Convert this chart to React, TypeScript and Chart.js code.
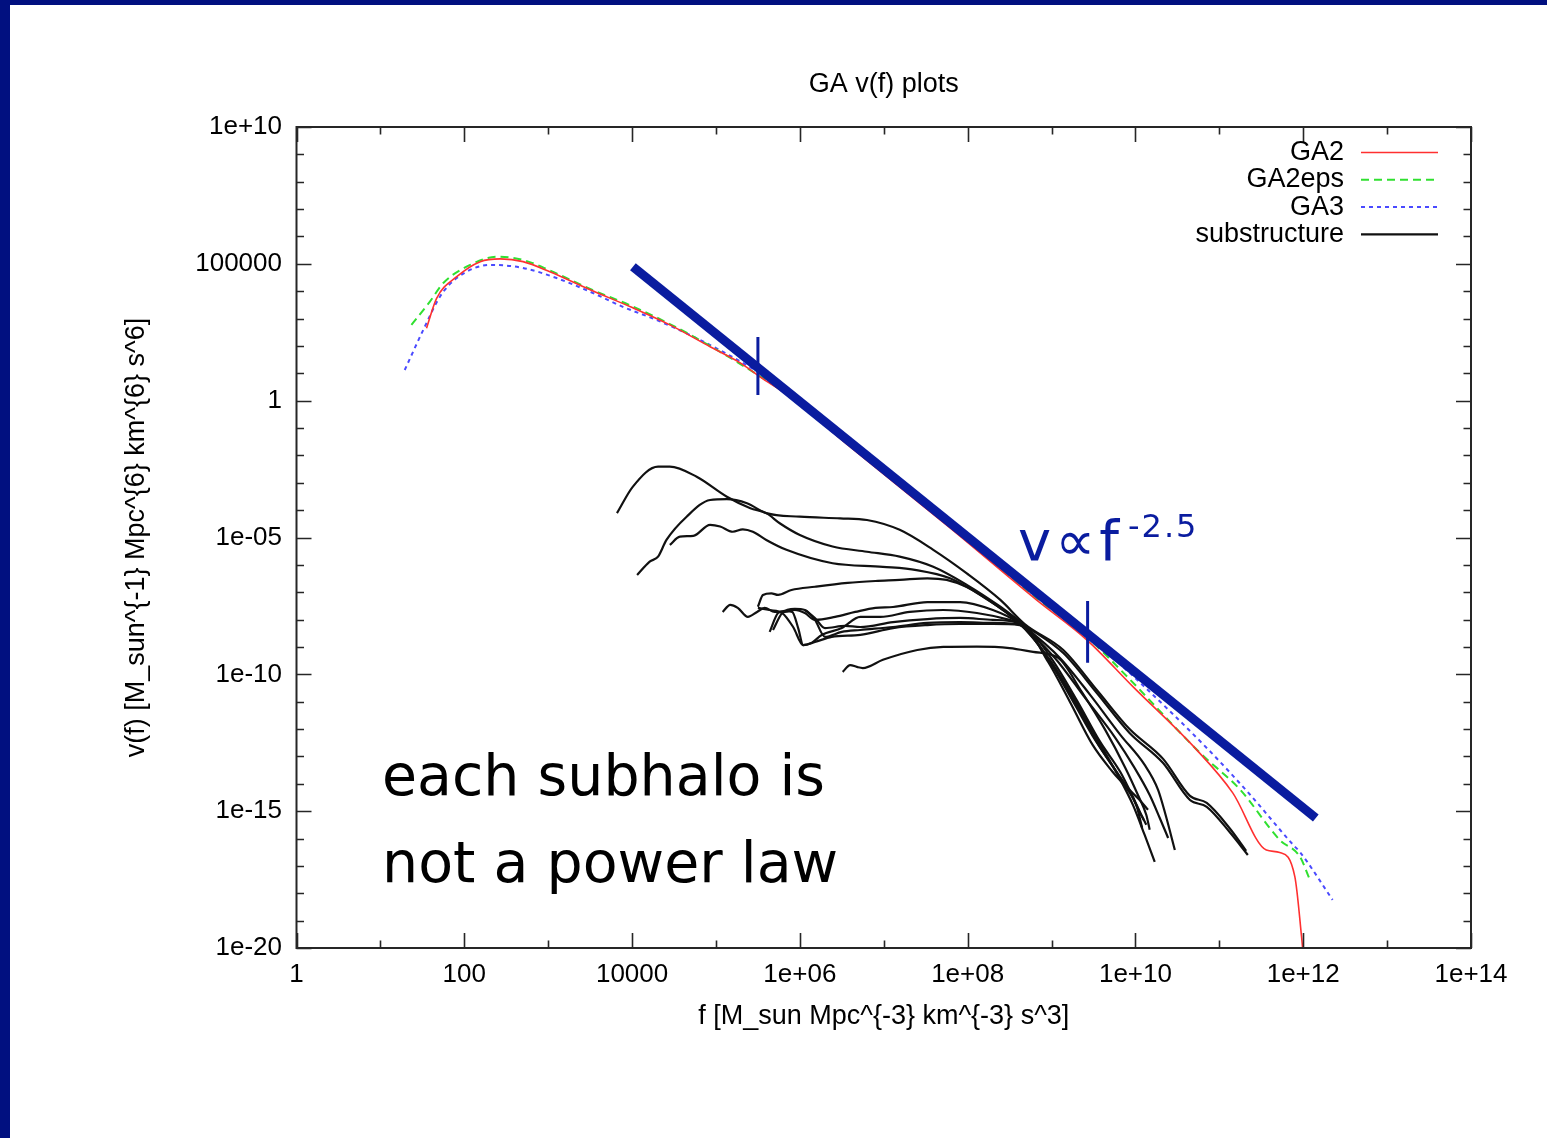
import React, { useEffect, useRef } from 'react';
import { Chart, registerables } from 'chart.js';

Chart.register(...registerables);

// ---------- axis ticks ----------
const X_TICK_VALUES = [1, 1e2, 1e4, 1e6, 1e8, 1e10, 1e12, 1e14];
const X_TICK_LABELS = ['1', '100', '10000', '1e+06', '1e+08', '1e+10', '1e+12', '1e+14'];
const Y_TICK_VALUES = [1e-20, 1e-15, 1e-10, 1e-5, 1, 1e5, 1e10];
const Y_TICK_LABELS = ['1e-20', '1e-15', '1e-10', '1e-05', '1', '100000', '1e+10'];

const TITLE = 'GA v(f) plots';
const X_TITLE = 'f [M_sun Mpc^{-3} km^{-3} s^3]';
const Y_TITLE = 'v(f) [M_sun^{-1} Mpc^{6} km^{6} s^6]';
const LEGEND_LABELS = ['GA2', 'GA2eps', 'GA3', 'substructure'];

// ---------- series (log10 f, log10 v) ----------
const GA2_LOGF = [1.55, 1.67, 1.91, 2.19, 2.43, 2.70, 3.02, 3.50, 3.98, 4.45, 4.93, 5.29, 5.52, 5.88, 6.60, 7.79, 8.82, 9.42, 9.97, 10.73, 11.16, 11.56, 11.72, 11.90, 11.98, 12.00];
const GA2_LOGV = [2.65, 3.74, 4.53, 5.08, 5.18, 5.08, 4.71, 4.05, 3.43, 2.77, 1.97, 1.38, 0.88, 0.15, -1.69, -4.65, -7.28, -8.74, -10.45, -12.76, -14.33, -16.42, -16.51, -17.39, -19.58, -20.25];

const GA2EPS_LOGF = [1.37, 1.59, 1.75, 2.07, 2.39, 2.70, 3.02, 3.50, 3.98, 4.45, 4.93, 5.52, 5.88, 6.60, 7.79, 8.82, 9.42, 9.90, 10.77, 11.25, 11.72, 11.96, 12.08];
const GA2EPS_LOGV = [2.77, 3.62, 4.30, 4.96, 5.26, 5.14, 4.76, 4.08, 3.48, 2.80, 2.00, 0.90, 0.17, -1.66, -4.61, -7.21, -8.63, -10.08, -12.87, -14.22, -16.05, -16.66, -17.51];

const GA3_LOGF = [1.29, 1.51, 1.71, 1.91, 2.31, 2.70, 3.10, 3.50, 3.89, 4.29, 4.69, 5.08, 5.49, 5.88, 6.60, 7.79, 8.82, 9.42, 9.97, 10.85, 11.37, 11.88, 11.96, 12.35];
const GA3_LOGV = [1.12, 2.58, 3.80, 4.48, 4.96, 4.85, 4.48, 3.98, 3.43, 2.95, 2.40, 1.79, 1.06, 0.14, -1.66, -4.61, -7.17, -8.56, -10.06, -12.69, -14.41, -16.23, -16.49, -18.24];

const SUB_1 = [[3.82, -4.11], [4.01, -3.14], [4.31, -2.41], [4.45, -2.41], [4.77, -2.78], [5.13, -3.51], [5.41, -3.93], [5.60, -4.11], [5.76, -4.48], [6.00, -4.91], [6.39, -5.33], [6.80, -5.52], [7.19, -5.70], [7.59, -6.07], [7.99, -6.73], [8.39, -7.53], [8.68, -8.20], [9.14, -9.22], [9.54, -10.68], [9.93, -12.14], [10.33, -13.24], [10.65, -14.59], [10.85, -14.84], [11.13, -15.79], [11.34, -16.60]];
const SUB_2 = [[4.06, -6.37], [4.21, -5.88], [4.31, -5.70], [4.41, -5.09], [4.65, -4.24], [4.93, -3.63], [5.13, -3.60], [5.37, -3.75], [5.60, -4.11], [6.00, -4.24], [6.48, -4.30], [6.80, -4.36], [7.19, -4.72], [7.59, -5.45], [7.99, -6.31], [8.39, -7.28], [8.68, -8.16], [9.14, -9.11], [9.54, -10.57], [9.93, -12.00], [10.33, -13.09], [10.65, -14.44], [10.85, -14.70], [11.13, -15.65], [11.32, -16.45]];
const SUB_3 = [[4.45, -5.27], [4.57, -4.97], [4.73, -4.94], [4.93, -4.54], [5.05, -4.60], [5.20, -4.79], [5.32, -4.70], [5.44, -4.79], [5.60, -5.09], [5.84, -5.45], [6.39, -5.94], [6.99, -6.07], [7.39, -6.19], [7.79, -6.49], [8.18, -7.16], [8.60, -8.09], [8.98, -9.47], [9.28, -10.94], [9.55, -12.40], [9.79, -13.68], [9.97, -14.77], [10.11, -15.87], [10.23, -16.85]];
const SUB_4 = [[5.50, -7.53], [5.56, -7.10], [5.66, -7.04], [5.74, -7.10], [5.90, -6.92], [6.18, -6.80], [6.57, -6.66], [6.90, -6.59], [7.19, -6.55], [7.52, -6.49], [7.75, -6.55], [7.99, -6.81], [8.30, -7.39], [8.62, -8.12], [9.10, -9.40], [9.46, -10.75], [9.82, -12.21], [10.11, -13.31], [10.27, -14.22], [10.36, -15.14], [10.47, -16.42]];
const SUB_5 = [[5.08, -7.72], [5.17, -7.46], [5.26, -7.57], [5.38, -7.90], [5.49, -7.72], [5.58, -7.57], [5.70, -7.72], [5.82, -7.72], [5.94, -7.65], [6.06, -7.76], [6.18, -8.01], [6.42, -7.90], [6.66, -7.72], [6.90, -7.57], [7.11, -7.54], [7.52, -7.36], [7.91, -7.36], [8.30, -7.65], [8.59, -8.09], [9.04, -9.40], [9.40, -10.86], [9.76, -12.32], [9.99, -13.42], [10.17, -14.41], [10.29, -15.25], [10.39, -15.98]];
const SUB_6 = [[5.64, -8.45], [5.74, -7.76], [5.82, -7.68], [5.91, -7.72], [5.98, -8.31], [6.04, -8.93], [6.18, -8.82], [6.38, -8.63], [6.72, -8.56], [7.11, -8.31], [7.52, -8.20], [7.91, -8.16], [8.30, -8.16], [8.62, -8.20], [8.98, -9.55], [9.26, -11.01], [9.52, -12.40], [9.76, -13.49], [9.93, -14.22], [10.05, -14.59], [10.15, -14.95]];
const SUB_7 = [[5.68, -8.38], [5.79, -7.76], [5.94, -7.61], [6.06, -7.65], [6.18, -8.01], [6.30, -8.63], [6.50, -8.45], [6.72, -8.38], [7.11, -8.27], [7.52, -8.12], [7.91, -8.09], [8.30, -8.12], [8.65, -8.20], [8.96, -9.55], [9.22, -11.01], [9.49, -12.58], [9.73, -13.57], [9.91, -14.22], [10.01, -14.77], [10.08, -15.61]];
const SUB_8 = [[5.50, -7.57], [5.64, -7.65], [5.79, -7.76], [5.92, -8.27], [6.04, -8.93], [6.14, -8.85], [6.26, -8.56], [6.50, -8.31], [6.72, -7.90], [6.96, -7.90], [7.31, -7.72], [7.71, -7.65], [8.11, -7.76], [8.50, -8.01], [8.68, -8.20], [9.01, -9.47], [9.30, -10.94], [9.58, -12.47], [9.82, -13.57], [9.97, -14.48], [10.07, -15.14], [10.13, -15.50]];
const SUB_9 = [[6.06, -7.65], [6.18, -7.94], [6.30, -8.31], [6.54, -8.23], [6.72, -8.27], [7.11, -8.09], [7.52, -7.98], [7.91, -7.94], [8.30, -8.01], [8.56, -8.09], [8.98, -9.51], [9.28, -11.01], [9.54, -12.47], [9.78, -13.60], [9.95, -14.41], [10.05, -15.03], [10.10, -15.32]];
const SUB_10 = [[6.51, -9.91], [6.60, -9.66], [6.68, -9.73], [6.75, -9.77], [6.99, -9.47], [7.40, -9.11], [7.71, -9.00], [8.11, -8.99], [8.50, -9.04], [8.78, -9.18], [9.08, -9.40], [9.36, -10.64], [9.64, -12.03], [9.88, -13.42], [10.03, -14.41], [10.13, -15.14], [10.17, -15.68]];
const SUBSTRUCTURE = [SUB_1, SUB_2, SUB_3, SUB_4, SUB_5, SUB_6, SUB_7, SUB_8, SUB_9, SUB_10];

// hand-drawn slide annotations (log10 f, log10 v)
const POWER_LAW_LOGF = [4.01, 12.15];
const POWER_LAW_LOGV = [4.89, -15.25];
const MARK_1_LOGF = [5.50, 5.50];
const MARK_1_LOGV = [2.33, 0.21];
const MARK_2_LOGF = [9.43, 9.43];
const MARK_2_LOGV = [-7.32, -9.58];

const NAVY = '#011080';
const ANNOT_BLUE = '#0a1c9f';
const FONT = "'Liberation Sans', Arial, Helvetica, sans-serif";
const HAND_FONT = "'DejaVu Sans', sans-serif";

const toPoints = (lf: number[], lv: number[]) => lf.map((x, i) => ({ x: Math.pow(10, x), y: Math.pow(10, lv[i]) }));
const pairPoints = (pairs: number[][]) => pairs.map(([a, b]) => ({ x: Math.pow(10, a), y: Math.pow(10, b) }));

const gnuFrame = {
  id: 'gnuFrame',
  afterDraw(chart: any) {
    const { ctx, chartArea: a, scales } = chart;
    const xs = scales.x;
    const ys = scales.y;
    ctx.save();
    ctx.strokeStyle = '#262626';
    ctx.lineWidth = 2;
    ctx.strokeRect(a.left, a.top, a.right - a.left, a.bottom - a.top);
    ctx.lineWidth = 1.6;
    ctx.beginPath();
    for (let e = 0; e <= 14; e++) {
      const px = Math.round(xs.getPixelForValue(Math.pow(10, e))) + 0.5;
      const len = e % 2 === 0 ? 15 : 7.5;
      ctx.moveTo(px, a.bottom);
      ctx.lineTo(px, a.bottom - len);
      ctx.moveTo(px, a.top);
      ctx.lineTo(px, a.top + len);
    }
    for (let e = -20; e <= 10; e++) {
      const py = Math.round(ys.getPixelForValue(Math.pow(10, e))) + 0.5;
      const len = e % 5 === 0 ? 15 : 7.5;
      ctx.moveTo(a.left, py);
      ctx.lineTo(a.left + len, py);
      ctx.moveTo(a.right, py);
      ctx.lineTo(a.right - len, py);
    }
    ctx.stroke();

    // gnuplot-style key
    LEGEND_LABELS.forEach((label, i) => {
      const ds = chart.data.datasets.find((d: any) => d.label === label);
      if (!ds) return;
      const y = a.top + 25.5 + i * 27.3;
      ctx.fillStyle = '#000';
      ctx.font = `27px ${FONT}`;
      ctx.textAlign = 'right';
      ctx.textBaseline = 'middle';
      ctx.fillText(label, a.right - 127, y);
      ctx.strokeStyle = ds.borderColor;
      ctx.lineWidth = ds.borderWidth;
      ctx.setLineDash(ds.borderDash || []);
      ctx.beginPath();
      ctx.moveTo(a.right - 110, y);
      ctx.lineTo(a.right - 33, y);
      ctx.stroke();
      ctx.setLineDash([]);
    });
    ctx.restore();
  },
};

export default function App() {
  const canvasRef = useRef<HTMLCanvasElement>(null);

  useEffect(() => {
    const canvas = canvasRef.current;
    if (!canvas) return;

    const curve = (label: string, data: any[], color: string, width: number, dash: number[] = []) => ({
      label,
      data,
      showLine: true,
      borderColor: color,
      backgroundColor: color,
      borderWidth: width,
      borderDash: dash,
      pointRadius: 0,
      pointHoverRadius: 0,
      fill: false,
      cubicInterpolationMode: 'monotone' as const,
    });

    const annot = (data: any[], width: number) => ({
      label: 'annotation',
      data,
      showLine: true,
      borderColor: ANNOT_BLUE,
      backgroundColor: ANNOT_BLUE,
      borderWidth: width,
      borderCapStyle: 'butt' as const,
      pointRadius: 0,
      pointHoverRadius: 0,
      fill: false,
      tension: 0,
    });

    const datasets: any[] = [
      annot(toPoints(POWER_LAW_LOGF, POWER_LAW_LOGV), 9),
      annot(toPoints(MARK_1_LOGF, MARK_1_LOGV), 3),
      annot(toPoints(MARK_2_LOGF, MARK_2_LOGV), 3),
      curve('GA2', toPoints(GA2_LOGF, GA2_LOGV), '#ff3030', 1.6),
      curve('GA2eps', toPoints(GA2EPS_LOGF, GA2EPS_LOGV), '#30e030', 2, [8, 5]),
      curve('GA3', toPoints(GA3_LOGF, GA3_LOGV), '#4a4aff', 2, [4, 4]),
      ...SUBSTRUCTURE.map((s) => curve('substructure', pairPoints(s), '#111111', 2.2)),
    ];

    const chart = new Chart(canvas, {
      type: 'scatter',
      data: { datasets },
      plugins: [gnuFrame],
      options: {
        animation: false,
        responsive: false,
        devicePixelRatio: 1,
        events: [],
        layout: { padding: { left: 0, right: 76, top: 0, bottom: 104.8 } },
        plugins: {
          legend: { display: false },
          tooltip: { enabled: false },
          title: {
            display: true,
            text: TITLE,
            fullSize: false,
            color: '#000',
            font: { family: FONT, size: 27, weight: 'normal' },
            padding: { top: 68.8, bottom: 25.8 },
          },
        },
        scales: {
          x: {
            type: 'logarithmic',
            position: 'bottom',
            min: 1,
            max: 1e14,
            grid: { display: false, drawTicks: false },
            border: { display: false },
            afterBuildTicks: (s: any) => {
              s.ticks = X_TICK_VALUES.map((v) => ({ value: v }));
            },
            afterFit: (s: any) => {
              s.height = 85.2;
            },
            ticks: {
              autoSkip: false,
              maxRotation: 0,
              minRotation: 0,
              padding: 11.4,
              color: '#000',
              font: { family: FONT, size: 26 },
              callback: (_v: any, i: number) => X_TICK_LABELS[i],
            },
            title: {
              display: true,
              text: X_TITLE,
              color: '#000',
              font: { family: FONT, size: 27 },
              padding: { top: 0, bottom: 0 },
            },
          },
          y: {
            type: 'logarithmic',
            position: 'left',
            min: 1e-20,
            max: 1e10,
            grid: { display: false, drawTicks: false },
            border: { display: false },
            afterBuildTicks: (s: any) => {
              s.ticks = Y_TICK_VALUES.map((v) => ({ value: v }));
            },
            afterFit: (s: any) => {
              s.width = 296.5;
            },
            ticks: {
              autoSkip: false,
              padding: 14.5,
              color: '#000',
              font: { family: FONT, size: 26 },
              callback: (_v: any, i: number) => Y_TICK_LABELS[i],
            },
            title: {
              display: true,
              text: Y_TITLE,
              color: '#000',
              font: { family: FONT, size: 27 },
              padding: { top: 120.8, bottom: 0 },
            },
          },
        },
      } as any,
    });

    return () => chart.destroy();
  }, []);

  const abs = (extra: any) => ({ position: 'absolute' as const, whiteSpace: 'nowrap' as const, ...extra });

  return (
    <div style={{ position: 'fixed', left: 0, top: 0, width: 1547, height: 1138, background: '#fff', overflow: 'hidden' }}>
      <div style={abs({ left: 0, top: 0, width: 1547, height: 5, background: NAVY })} />
      <div style={abs({ left: 0, top: 0, width: 10, height: 1138, background: NAVY })} />
      <canvas
        ref={canvasRef}
        width={1547}
        height={1138}
        style={{ position: 'absolute', left: 0, top: 0, width: 1547, height: 1138 }}
      />
      <div style={abs({ left: 382, top: 746.8, fontFamily: HAND_FONT, fontSize: 57, lineHeight: '57px', color: '#000' })}>
        each subhalo is
      </div>
      <div style={abs({ left: 382, top: 833.8, fontFamily: HAND_FONT, fontSize: 57, lineHeight: '57px', color: '#000' })}>
        not a power law
      </div>
      <div style={abs({ left: 1018, top: 512.6, fontFamily: HAND_FONT, fontSize: 56, lineHeight: '56px', letterSpacing: 4, color: ANNOT_BLUE })}>
        v∝f
      </div>
      <div style={abs({ left: 1128, top: 509.9, fontFamily: HAND_FONT, fontSize: 32, lineHeight: '32px', letterSpacing: 2, color: ANNOT_BLUE })}>
        -2.5
      </div>
    </div>
  );
}
